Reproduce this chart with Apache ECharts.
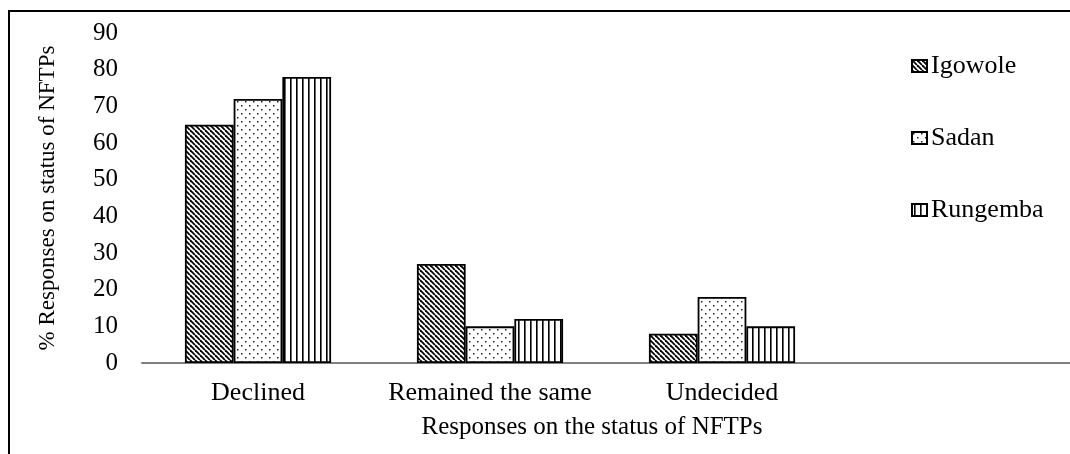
<!DOCTYPE html>
<html>
<head>
<meta charset="utf-8">
<script src="https://cdn.jsdelivr.net/npm/echarts@6/dist/echarts.min.js"></script>
<style>
  html, body { margin: 0; padding: 0; background: #fff; overflow: hidden; }
  #chart { width: 1070px; height: 454px; }
</style>
</head>
<body>
<div id="chart"></div>
<script>
// categories (4th slot is empty, as in the original figure)
const categories = ["Declined", "Remained the same", "Undecided", ""]
const igowole = [65, 27, 8, null]
const sadan = [72, 10, 18, null]
const rungemba = [78, 12, 10, null]

const FONT = "'Liberation Serif', 'Times New Roman', serif"

// fill patterns
function makeTile(w, h, draw) {
  const c = document.createElement("canvas")
  c.width = w
  c.height = h
  const ctx = c.getContext("2d")
  ctx.fillStyle = "#fff"
  ctx.fillRect(0, 0, w, h)
  draw(ctx)
  return c
}

const hatchTile = makeTile(5, 5, function (ctx) {
  ctx.strokeStyle = "#000"
  ctx.lineWidth = 1.8
  for (let k = -1; k <= 1; k++) {
    ctx.beginPath()
    ctx.moveTo(k * 5, 0)
    ctx.lineTo(k * 5 + 5, 5)
    ctx.stroke()
  }
})

const dotTile = makeTile(8, 8, function (ctx) {
  ctx.fillStyle = "#222"
  ctx.fillRect(1, 1, 1.5, 1.5)
  ctx.fillRect(5, 5, 1.5, 1.5)
})

const vlineTile = makeTile(6, 6, function (ctx) {
  ctx.fillStyle = "#000"
  ctx.fillRect(2, 0, 1.6, 6)
})

function pattern(tile) {
  return { image: tile, repeat: "repeat" }
}

function barSeries(name, data, tile) {
  return {
    name: name,
    type: "bar",
    data: data,
    barGap: "0%",
    barCategoryGap: "37%",
    itemStyle: {
      color: pattern(tile),
      borderColor: "#000",
      borderWidth: 1.8
    }
  }
}

const myChart = echarts.init(document.getElementById("chart"))

const option = {
  backgroundColor: "#fff",
  animation: false,
  textStyle: { fontFamily: FONT },
  graphic: [
    {
      type: "rect",
      shape: { x: 9, y: 11, width: 1100, height: 500 },
      style: { fill: "none", stroke: "#000", lineWidth: 2 },
      silent: true
    }
  ],
  grid: {
    left: 142,
    top: 33,
    width: 938,
    height: 330
  },
  legend: {
    orient: "vertical",
    left: 906,
    top: 48,
    itemWidth: 15,
    itemHeight: 12,
    itemGap: 46,
    icon: "rect",
    textStyle: { fontFamily: FONT, fontSize: 26, color: "#000", padding: [0, 0, 0, -1] },
    data: ["Igowole", "Sadan", "Rungemba"]
  },
  xAxis: {
    type: "category",
    data: categories,
    axisLine: { show: true, lineStyle: { color: "#7f7f7f", width: 2 } },
    axisTick: { show: false },
    axisLabel: { fontFamily: FONT, fontSize: 26, color: "#000", margin: 17, interval: 0 },
    name: "Responses on the status of NFTPs",
    nameLocation: "middle",
    nameGap: 52,
    nameTextStyle: { fontFamily: FONT, fontSize: 25, color: "#000", padding: [0, 28, 0, 0] }
  },
  yAxis: {
    type: "value",
    min: 0,
    max: 90,
    interval: 10,
    axisLine: { show: false },
    axisTick: { show: false },
    splitLine: { show: false },
    axisLabel: { fontFamily: FONT, fontSize: 25, color: "#000", margin: 24 },
    name: "% Responses on status of NFTPs",
    nameLocation: "middle",
    nameGap: 83,
    nameTextStyle: { fontFamily: FONT, fontSize: 23, color: "#000" }
  },
  series: [
    barSeries("Igowole", igowole, hatchTile),
    barSeries("Sadan", sadan, dotTile),
    barSeries("Rungemba", rungemba, vlineTile)
  ]
}

myChart.setOption(option)
</script>
</body>
</html>
